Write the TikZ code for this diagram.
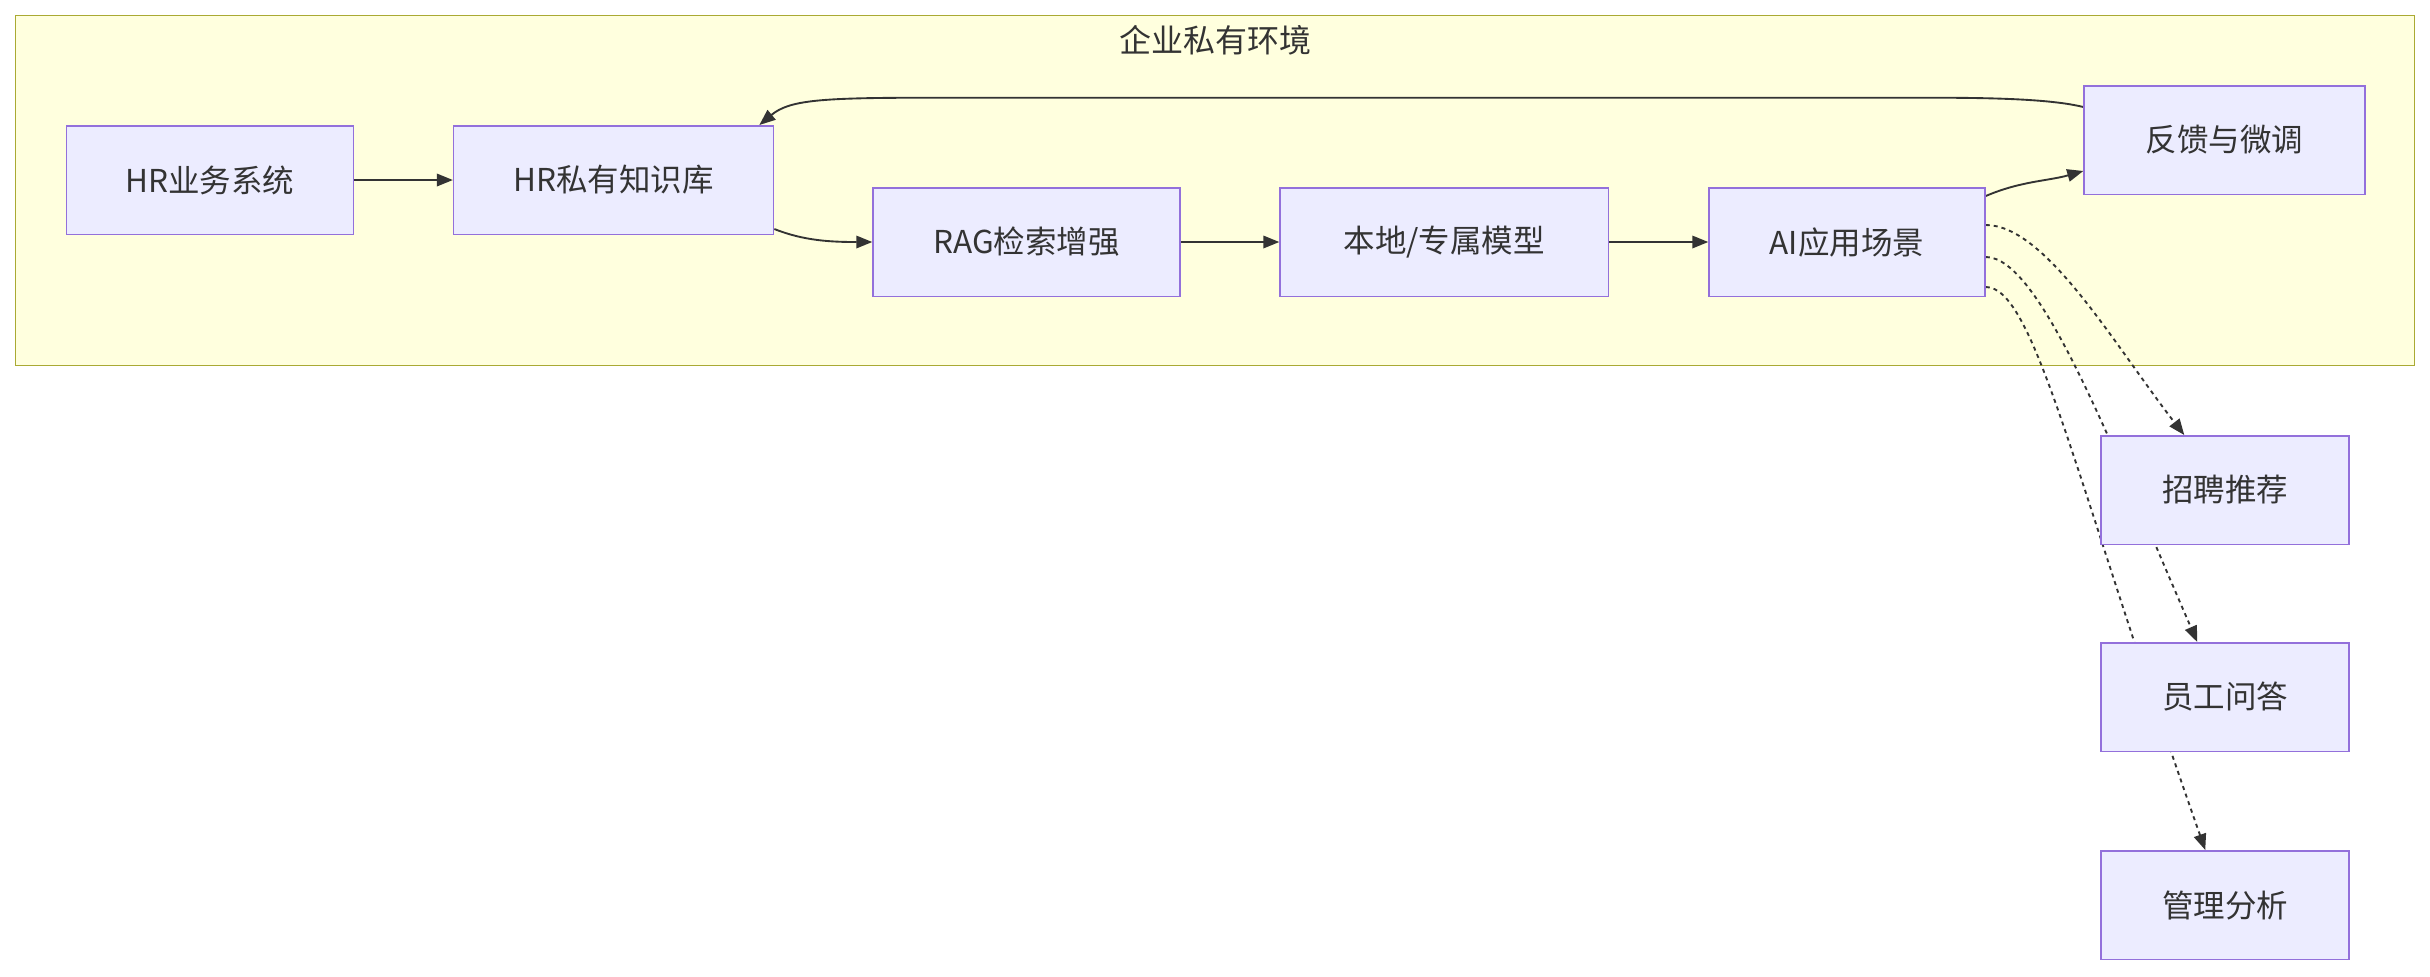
\documentclass[tikz,border=0pt]{standalone}
\usepackage{fontspec}
\usepackage{xcolor}
\usepackage{tikz}
\usetikzlibrary{arrows.meta, positioning, calc, backgrounds}
\newfontfamily\cjk{Noto Sans CJK SC}
\definecolor{envFill}{HTML}{FFFFDE}
\definecolor{envLine}{HTML}{AAAA33}
\definecolor{boxFill}{HTML}{ECECFF}
\definecolor{boxLine}{HTML}{9370DB}
\definecolor{ink}{HTML}{333333}
\pgfdeclarelayer{edges}
\pgfsetlayers{background,edges,main}
\tikzset{
  stepbox/.style={
    draw=boxLine,
    line width=0.6pt,
    fill=boxFill,
    text=ink,
    align=center,
    inner sep=0pt,
    minimum height=43.4pt,
    font=\cjk\fontsize{12.6}{15}\selectfont
  },
  envbox/.style={
    draw=envLine,
    line width=0.6pt,
    fill=envFill,
    inner sep=0pt
  },
  envlabel/.style={text=ink, font=\cjk\fontsize{12.8}{15}\selectfont},
  flow/.style={-{Triangle[length=6.4pt,width=5pt]}, line width=0.75pt, draw=ink},
  usecase/.style={flow, dash pattern=on 1.6pt off 1.6pt}
}
\begin{document}
\begin{tikzpicture}[x=0.4pt, y=-0.4pt]
  \useasboundingbox (0,0) rectangle (2430,976);

  \node[stepbox, minimum width=114.8pt] (hrsys) at (210,180) {HR业务系统};
  \node[stepbox, minimum width=128pt] (hrkb) at (613.6,180) {HR私有知识库};
  \node[stepbox, minimum width=122.8pt] (rag) at (1026.5,242) {RAG检索增强};
  \node[stepbox, minimum width=131.4pt] (model) at (1444.3,242) {本地/专属模型};
  \node[stepbox, minimum width=110.4pt] (ai) at (1847,242) {AI应用场景};
  \node[stepbox, minimum width=112.4pt] (fb) at (2224.5,140) {反馈与微调};
  \node[stepbox, minimum width=99.2pt] (rec) at (2225,490) {招聘推荐};
  \node[stepbox, minimum width=99.2pt] (qa) at (2225,697) {员工问答};
  \node[stepbox, minimum width=99.2pt] (ana) at (2225,905) {管理分析};

  \begin{pgfonlayer}{background}
    \node[envbox, minimum width=959.6pt, minimum height=140pt] (env) at (1215,190.5) {};
  \end{pgfonlayer}
  \node[envlabel] (envtitle) at (1215,40) {企业私有环境};

  \begin{pgfonlayer}{edges}
    \draw[flow] (hrsys) -- (hrkb.west);
    \draw[flow] ($(hrkb.south east)+(0,-6)$) .. controls +(30,12) and +(-40,0) .. (rag.west);
    \draw[flow] (rag) -- (model);
    \draw[flow] (model) -- (ai);
    \draw[flow] ($(ai.north east)+(0,9)$) .. controls +(35,-15) and +(-35,10) .. ($(fb.south west)+(0,-24)$);
    \draw[flow] ($(fb.north west)+(0,22)$) .. controls +(-40,-10) and +(60,0) .. (1900,97.7)
      -- (930,97.7) .. controls +(-110,0) and +(30,-25) .. ($(hrkb.north east)+(-15,0)$);
    \draw[usecase] ($(ai.north east)+(0,38)$) .. controls +(60,0) and +(-70,-90) .. ($(rec.north west)+(84,0)$);
    \draw[usecase] ($(ai.north east)+(0,70)$) .. controls +(54,0) and +(-88,-202) .. ($(qa.north west)+(97,0)$);
    \draw[usecase] ($(ai.north east)+(0,100)$) .. controls +(49,0) and +(-131,-371) .. ($(ana.north west)+(105,0)$);
  \end{pgfonlayer}
\end{tikzpicture}
\end{document}
